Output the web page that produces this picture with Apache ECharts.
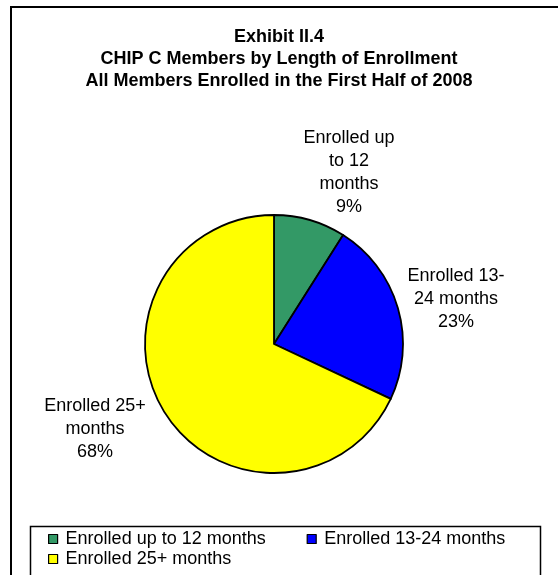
<!DOCTYPE html>
<html>
<head>
<meta charset="utf-8">
<script src="https://cdn.jsdelivr.net/npm/echarts@6/dist/echarts.min.js"></script>
<style>
html,body{margin:0;padding:0;background:#fff;}
#chart{width:558px;height:575px;}
</style>
</head>
<body>
<div id="chart"></div>
<script>
var categories = ['Enrolled up to 12 months', 'Enrolled 13-24 months', 'Enrolled 25+ months'];
var values = [9, 23, 68];
var labelText = ['Enrolled up\nto 12\nmonths', 'Enrolled 13-\n24 months', 'Enrolled 25+\nmonths'];
var colors = ['#339966', '#0000FF', '#FFFF00'];
var titleLines = ['Exhibit II.4', 'CHIP C Members by Length of Enrollment', 'All Members Enrolled in the First Half of 2008'];

var FONT = '"Liberation Sans", Arial, sans-serif';
var labelAnchors = [[349, 173], [456, 299], [95, 429]];

var chart = echarts.init(document.getElementById('chart'), null, {renderer: 'canvas'});
var option = {
  backgroundColor: '#ffffff',
  animation: false,
  title: {
    text: titleLines.join('\n'),
    left: 279,
    top: 26,
    textAlign: 'center',
    padding: 0,
    textStyle: {fontFamily: FONT, fontSize: 18, fontWeight: 'bold', color: '#000', lineHeight: 22}
  },
  graphic: [
    {type: 'rect', shape: {x: 11, y: 7, width: 570, height: 620}, style: {fill: 'none', stroke: '#000', lineWidth: 2}, silent: true},
    {type: 'rect', shape: {x: 30.5, y: 526.5, width: 510, height: 100}, style: {fill: 'none', stroke: '#000', lineWidth: 1.5}, silent: true}
  ],
  legend: {
    data: categories,
    left: 48,
    top: 530,
    width: 520,
    orient: 'horizontal',
    padding: 0,
    itemGap: 2,
    itemWidth: 9,
    itemHeight: 9,
    icon: 'rect',
    itemStyle: {borderColor: '#000', borderWidth: 1.2},
    textStyle: {fontFamily: FONT, fontSize: 18, color: '#000', width: 239, lineHeight: 15, padding: [0, 0, 0, 3]}
  },
  series: [{
    type: 'pie',
    center: [274, 344],
    radius: [0, 129],
    startAngle: 90,
    clockwise: true,
    avoidLabelOverlap: false,
    itemStyle: {borderColor: '#000', borderWidth: 1.8},
    label: {
      show: true,
      position: 'outside',
      fontFamily: FONT,
      fontSize: 18,
      color: '#000',
      lineHeight: 23,
      align: 'center',
      formatter: function (p) { return labelText[p.dataIndex] + '\n' + Math.round(p.value) + '%'; }
    },
    labelLine: {show: false},
    labelLayout: function (p) {
      var a = labelAnchors[p.dataIndex];
      return {x: a[0], y: a[1], align: 'center', verticalAlign: 'middle'};
    },
    emphasis: {disabled: true},
    data: categories.map(function (c, i) { return {name: c, value: values[i], itemStyle: {color: colors[i]}}; })
  }]
};
chart.setOption(option);
</script>
</body>
</html>
